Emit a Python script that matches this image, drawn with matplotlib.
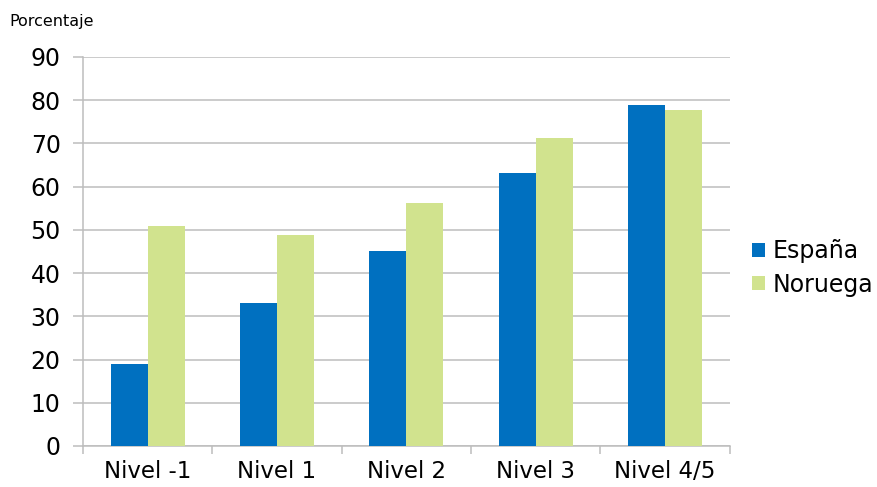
import numpy as np
import matplotlib
matplotlib.use('Agg')
from matplotlib import pyplot as plt

niveles = ['Nivel -1', 'Nivel 1', 'Nivel 2', 'Nivel 3', 'Nivel 4/5']
espana = [18.9, 33.0, 45.2, 63.1, 78.8]
noruega = [50.9, 48.9, 56.3, 71.3, 77.8]

azul = '#0070C0'
verde = '#D1E38E'
gris = '#BDBDBD'

fig = plt.figure(figsize=(8.77, 4.87), dpi=100)
ax = fig.add_axes([0.0946, 0.0842, 0.7375, 0.7988])

x = np.arange(len(niveles))
w = 0.286
ax.bar(x - w / 2, espana, w, color=azul, label='España', zorder=3)
ax.bar(x + w / 2, noruega, w, color=verde, label='Noruega', zorder=3)

ax.set_xlim(-0.5, len(niveles) - 0.5)
ax.set_ylim(0, 90)
ax.set_yticks(range(0, 91, 10))
ax.yaxis.grid(True, color=gris, linewidth=1.1, zorder=0)

ax.set_xticks(x)
ax.set_xticklabels(niveles, fontsize=16.5)
ax.set_xticks(np.arange(-0.5, len(niveles) + 0.5, 1), minor=True)
ax.tick_params(axis='x', which='major', length=0, pad=10)
ax.tick_params(axis='x', which='minor', length=6, color=gris, width=1.1)
ax.tick_params(axis='y', length=7, color=gris, width=1.1, labelsize=17, pad=9)

for s in ['top', 'right']:
    ax.spines[s].set_visible(False)
for s in ['left', 'bottom']:
    ax.spines[s].set_color(gris)
    ax.spines[s].set_linewidth(1.1)

fig.text(0.011, 0.955, 'Porcentaje', fontsize=11.5, va='center', ha='left')

ax.legend(loc='center left', bbox_to_anchor=(0.857, 0.45), bbox_transform=fig.transFigure,
          frameon=False, fontsize=17, handlelength=0.55, handleheight=0.55,
          handletextpad=0.35, labelspacing=0.4, borderaxespad=0, borderpad=0)

fig.savefig('out.png', dpi=100)
